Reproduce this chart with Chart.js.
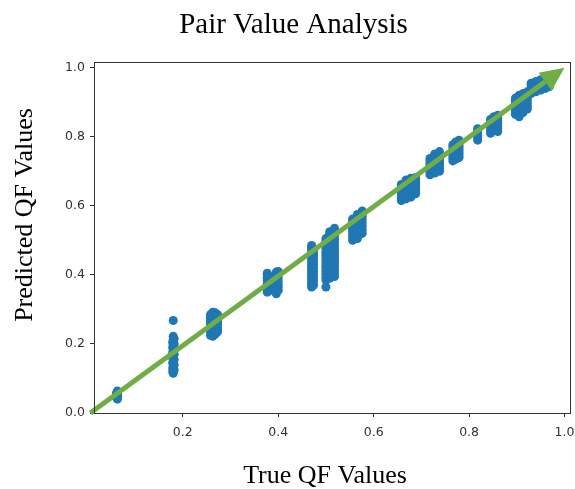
<!DOCTYPE html>
<html>
<head>
<meta charset="utf-8">
<title>Pair Value Analysis</title>
<script src="https://cdn.jsdelivr.net/npm/chart.js@4/dist/chart.umd.min.js"></script>
<style>
    body { margin: 0; background: #fff; }
    #wrap { width: 575px; height: 489px; position: relative; }
</style>
</head>
<body>
<div id="wrap"><canvas id="pairChart"></canvas></div>
<script>
// True QF value of each column of points, and the predicted values found at it
const trueQF = [
    0.061, 0.063,
    0.179, 0.180, 0.182,
    0.258, 0.263, 0.268, 0.273,
    0.377, 0.383, 0.396, 0.400,
    0.470, 0.474,
    0.500, 0.508, 0.512, 0.518,
    0.556, 0.566, 0.576,
    0.658, 0.668, 0.678, 0.688,
    0.718, 0.728, 0.738,
    0.766, 0.772, 0.779,
    0.818,
    0.845, 0.852, 0.860,
    0.897, 0.905, 0.913, 0.922,
    0.930, 0.940, 0.950, 0.960, 0.968
];

const predictedQF = [
    [0.046, 0.052, 0.058],
    [0.040, 0.044, 0.048, 0.052, 0.056, 0.060, 0.064],
    [0.120, 0.130, 0.145, 0.160, 0.175, 0.190, 0.205],
    [0.115, 0.122, 0.129, 0.136, 0.143, 0.150, 0.157, 0.164, 0.171, 0.178, 0.185, 0.192, 0.199, 0.206, 0.213, 0.222, 0.268],
    [0.125, 0.140, 0.155, 0.170, 0.185, 0.200, 0.215],
    [0.225, 0.235, 0.245, 0.255, 0.265, 0.275, 0.285],
    [0.222, 0.232, 0.242, 0.252, 0.262, 0.272, 0.282, 0.292],
    [0.228, 0.238, 0.250, 0.260, 0.270, 0.280, 0.290],
    [0.235, 0.245, 0.255, 0.265, 0.275, 0.285],
    [0.350, 0.358, 0.366, 0.374, 0.382, 0.390, 0.398, 0.405],
    [0.355, 0.365, 0.375, 0.385, 0.395],
    [0.345, 0.353, 0.361, 0.369, 0.377, 0.385, 0.393, 0.401, 0.408],
    [0.355, 0.364, 0.373, 0.382, 0.391, 0.400, 0.410],
    [0.365, 0.373, 0.381, 0.389, 0.397, 0.405, 0.413, 0.421, 0.429, 0.437, 0.445, 0.453, 0.461, 0.469, 0.477, 0.485],
    [0.370, 0.380, 0.390, 0.400, 0.410, 0.420, 0.430, 0.440, 0.450, 0.460, 0.470],
    [0.365, 0.385, 0.393, 0.401, 0.409, 0.417, 0.425, 0.433, 0.441, 0.449, 0.457, 0.465, 0.473, 0.481, 0.489, 0.497, 0.505],
    [0.390, 0.400, 0.410, 0.420, 0.430, 0.440, 0.450, 0.460, 0.470, 0.480, 0.490, 0.500, 0.510, 0.520, 0.525],
    [0.400, 0.410, 0.420, 0.430, 0.440, 0.450, 0.460, 0.470, 0.480, 0.490],
    [0.395, 0.405, 0.415, 0.425, 0.435, 0.445, 0.455, 0.465, 0.475, 0.485, 0.495, 0.505, 0.515, 0.525, 0.535],
    [0.500, 0.508, 0.516, 0.524, 0.532, 0.540, 0.548, 0.556, 0.562],
    [0.505, 0.515, 0.525, 0.535, 0.545, 0.555, 0.565, 0.575],
    [0.520, 0.530, 0.540, 0.550, 0.560, 0.570, 0.578, 0.585],
    [0.615, 0.623, 0.631, 0.639, 0.647, 0.655, 0.662],
    [0.620, 0.628, 0.636, 0.644, 0.652, 0.660, 0.668, 0.675],
    [0.625, 0.633, 0.641, 0.649, 0.657, 0.665, 0.673, 0.680],
    [0.635, 0.643, 0.651, 0.659, 0.667, 0.675, 0.682],
    [0.690, 0.698, 0.706, 0.714, 0.722, 0.730, 0.737],
    [0.695, 0.703, 0.711, 0.719, 0.727, 0.735, 0.743, 0.750],
    [0.700, 0.708, 0.716, 0.724, 0.732, 0.740, 0.748, 0.757],
    [0.730, 0.738, 0.746, 0.754, 0.762, 0.770, 0.777],
    [0.735, 0.745, 0.755, 0.765, 0.775, 0.785],
    [0.740, 0.748, 0.756, 0.764, 0.772, 0.780, 0.790],
    [0.790, 0.797, 0.804, 0.811, 0.818, 0.823],
    [0.810, 0.818, 0.826, 0.834, 0.842, 0.850],
    [0.820, 0.828, 0.836, 0.844, 0.852, 0.858],
    [0.815, 0.823, 0.831, 0.839, 0.847, 0.855, 0.862],
    [0.865, 0.873, 0.881, 0.889, 0.897, 0.905, 0.912],
    [0.858, 0.866, 0.874, 0.882, 0.890, 0.898, 0.906, 0.914, 0.920],
    [0.870, 0.878, 0.886, 0.894, 0.902, 0.910, 0.918, 0.925],
    [0.880, 0.888, 0.896, 0.904, 0.912, 0.920, 0.930],
    [0.925, 0.932, 0.940, 0.948, 0.955],
    [0.930, 0.938, 0.946, 0.954, 0.960],
    [0.935, 0.943, 0.951, 0.959, 0.965],
    [0.940, 0.948, 0.956, 0.962, 0.968],
    [0.945, 0.952, 0.960, 0.966]
];

// y = x reference arrow
const arrowFrom = [0.0, 0.0];
const arrowTo = [1.0, 1.0];

const xTicks = [0.2, 0.4, 0.6, 0.8, 1.0];
const yTicks = [0.0, 0.2, 0.4, 0.6, 0.8, 1.0];

const points = [];
trueQF.forEach((x, i) => {
    predictedQF[i].forEach(y => points.push({ x: x, y: y }));
});

const serif = '"Liberation Serif", "Times New Roman", serif';

// Frame around the plot area plus the green arrow
const framePlugin = {
    id: 'frame',
    afterDatasetsDraw(chart) {
        const { ctx, chartArea, scales } = chart;
        const x0 = scales.x.getPixelForValue(arrowFrom[0]);
        const y0 = scales.y.getPixelForValue(arrowFrom[1]);
        const x1 = scales.x.getPixelForValue(arrowTo[0]);
        const y1 = scales.y.getPixelForValue(arrowTo[1]);
        const angle = Math.atan2(y1 - y0, x1 - x0);
        const headLen = 24;
        const headHalf = 11;
        const bx = x1 - headLen * Math.cos(angle);
        const by = y1 - headLen * Math.sin(angle);

        ctx.save();
        ctx.strokeStyle = '#70ad47';
        ctx.fillStyle = '#70ad47';
        ctx.lineWidth = 5;
        ctx.beginPath();
        ctx.moveTo(x0 + 3, y0);
        ctx.lineTo(bx, by);
        ctx.stroke();
        ctx.beginPath();
        ctx.moveTo(x1, y1);
        ctx.lineTo(bx + headHalf * Math.sin(angle), by - headHalf * Math.cos(angle));
        ctx.lineTo(bx - headHalf * Math.sin(angle), by + headHalf * Math.cos(angle));
        ctx.closePath();
        ctx.fill();

        ctx.strokeStyle = '#333';
        ctx.lineWidth = 1;
        ctx.strokeRect(Math.round(chartArea.left) + 0.5, Math.round(chartArea.top) + 0.5,
            Math.round(chartArea.width) - 1, Math.round(chartArea.height));
        ctx.restore();
    },
    afterDraw(chart) {
        const { ctx } = chart;
        ctx.save();
        ctx.fillStyle = '#000';
        ctx.font = '26px ' + serif;
        ctx.textAlign = 'center';
        ctx.textBaseline = 'alphabetic';
        ctx.fillText('True QF Values', 325, 483);
        ctx.translate(32, 215);
        ctx.rotate(-Math.PI / 2);
        ctx.fillText('Predicted QF Values', 0, 0);
        ctx.restore();
    }
};

const tickFont = { family: '"DejaVu Sans", sans-serif', size: 12.5 };

new Chart(document.getElementById('pairChart'), {
    type: 'scatter',
    data: {
        datasets: [{
            data: points,
            backgroundColor: '#1f77b4',
            borderWidth: 0,
            pointRadius: 4.5,
            pointHoverRadius: 4.5
        }]
    },
    options: {
        responsive: true,
        maintainAspectRatio: false,
        animation: false,
        layout: { padding: { left: 15, right: 3, top: 0, bottom: 0 } },
        plugins: {
            legend: { display: false },
            tooltip: { enabled: false },
            title: {
                display: true,
                text: 'Pair Value Analysis',
                color: '#000',
                font: { family: serif, size: 29, weight: 'normal' },
                padding: { top: 8, bottom: 19 }
            }
        },
        scales: {
            x: {
                type: 'linear',
                min: 0.014,
                max: 1.0125,
                afterBuildTicks: scale => {
                    scale.ticks = xTicks.map(v => ({ value: v }));
                },
                afterFit: scale => {
                    scale.height = 76;
                    scale.paddingLeft = 0;
                    scale.paddingRight = 0;
                },
                border: { display: false },
                grid: {
                    drawOnChartArea: false,
                    drawTicks: true,
                    tickLength: 4,
                    color: '#333'
                },
                ticks: {
                    font: tickFont,
                    color: '#333',
                    padding: 8,
                    maxRotation: 0,
                    callback: v => v.toFixed(1)
                }
            },
            y: {
                type: 'linear',
                min: 0,
                max: 1.017,
                afterBuildTicks: scale => {
                    scale.ticks = yTicks.map(v => ({ value: v }));
                },
                afterFit: scale => {
                    scale.width = 79;
                    scale.paddingTop = 0;
                    scale.paddingBottom = 0;
                },
                border: { display: false },
                grid: {
                    drawOnChartArea: false,
                    drawTicks: true,
                    tickLength: 4,
                    color: '#333'
                },
                ticks: {
                    font: tickFont,
                    color: '#333',
                    padding: 5,
                    callback: v => v.toFixed(1)
                }
            }
        }
    },
    plugins: [framePlugin]
});
</script>
</body>
</html>
